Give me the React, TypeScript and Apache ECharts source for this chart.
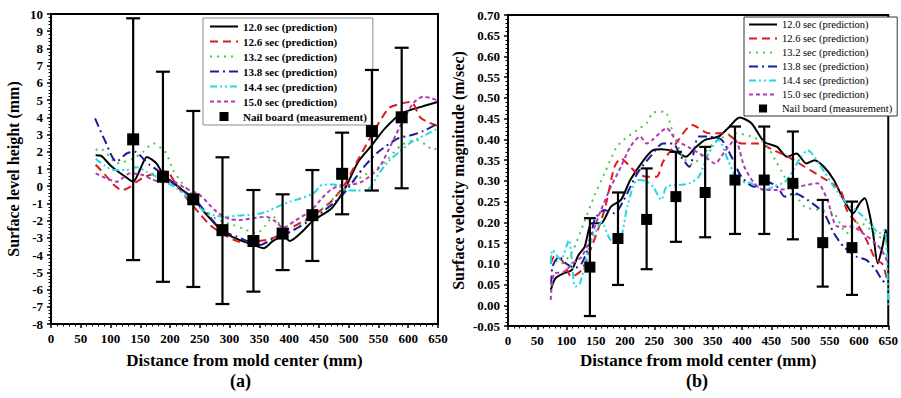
import React, { useEffect, useRef } from "react";
import * as echarts from "echarts";

const FONT = "'Liberation Serif', 'Times New Roman', serif";

const SERIES_NAMES = [
  "12.0 sec (prediction)",
  "12.6 sec (prediction)",
  "13.2 sec (prediction)",
  "13.8 sec (prediction)",
  "14.4 sec (prediction)",
  "15.0 sec (prediction)",
];
const MEAS_NAME = "Nail board (measurement)";

// ---- (a) surface level height (mm) ----
const LEFT_120 = [[75,1.8],[85,1.75],[100,1.2],[113,0.84],[125,0.55],[138,0.26],[150,1.0],[161,1.7],[177,1.33],[189,0.65],[200,0.35],[220,-0.2],[239,-0.7],[260,-1.6],[289,-2.64],[315,-3.1],[340,-3.41],[357,-3.6],[372,-3.2],[390,-2.9],[401,-3.18],[420,-2.7],[440,-2.0],[471,-1.29],[494,-0.12],[516,1.42],[539,2.39],[561,3.36],[589,4.23],[623,4.62],[650,4.9]];
const LEFT_126 = [[75,1.25],[90,0.7],[105,0.1],[119,-0.22],[130,-0.1],[144,0.26],[155,0.5],[170,0.7],[194,0.85],[210,0.1],[230,-0.8],[250,-1.6],[267,-2.25],[290,-2.8],[317,-3.22],[340,-3.2],[362,-3.12],[380,-2.9],[396,-2.54],[420,-2.1],[446,-1.57],[470,-0.9],[491,-0.03],[515,1.5],[539,2.97],[567,4.52],[589,4.81],[605,4.9],[620,4.0],[635,3.7],[650,3.5]];
const LEFT_132 = [[75,2.1],[82,2.2],[99,1.71],[110,1.33],[121,1.4],[138,1.6],[155,2.0],[172,2.49],[185,2.2],[194,1.9],[205,0.94],[220,0.2],[240,-0.6],[261,-1.57],[285,-2.0],[306,-2.25],[325,-2.5],[345,-2.74],[360,-2.3],[373,-1.77],[390,-2.5],[401,-2.7],[420,-2.2],[440,-1.77],[465,-1.0],[488,-0.32],[510,0.3],[527,0.65],[545,1.0],[561,1.42],[589,2.39],[614,2.68],[630,2.4],[642,2.1],[650,2.3]];
const LEFT_138 = [[74,3.94],[90,2.7],[110,1.42],[127,1.9],[141,2.0],[155,1.6],[166,1.23],[180,0.9],[194,0.46],[215,-0.1],[239,-0.7],[260,-1.5],[278,-2.25],[295,-2.7],[312,-2.93],[330,-3.2],[351,-3.41],[370,-3.1],[396,-2.74],[420,-2.3],[440,-1.9],[474,-1.0],[490,-0.5],[511,0.46],[530,1.3],[550,2.0],[583,2.78],[606,2.97],[625,3.2],[645,3.55],[650,3.6]];
const LEFT_144 = [[75,1.6],[90,1.2],[105,0.94],[127,0.94],[144,1.1],[160,0.85],[172,0.65],[190,0.3],[211,-0.12],[235,-0.8],[256,-1.4],[275,-1.7],[295,-1.77],[315,-1.7],[334,-1.67],[350,-1.6],[362,-1.48],[380,-1.2],[401,-0.9],[420,-0.7],[441,-0.41],[455,0.07],[475,0.1],[497,-0.22],[515,-0.25],[530,-0.22],[539,0.07],[552,0.8],[566,1.42],[585,2.0],[606,2.58],[630,3.0],[650,3.36]];
const LEFT_150 = [[75,0.75],[90,0.5],[110,0.26],[133,0.75],[155,0.65],[170,0.4],[183,0.26],[205,0.26],[225,-0.1],[250,-0.51],[278,-1.48],[300,-1.9],[317,-1.96],[340,-1.85],[362,-1.77],[375,-2.0],[390,-2.4],[410,-2.0],[437,-1.4],[455,-0.7],[470,-0.2],[488,0.07],[505,0.1],[522,0.26],[550,1.03],[566,2.05],[586,3.45],[608,4.8],[625,5.2],[640,5.1],[650,4.95]];
const LEFT_MEAS_X = [138, 188, 239, 288, 340, 389, 439, 489, 539, 589];
const LEFT_MEAS = [2.72, 0.55, -0.76, -2.55, -3.18, -2.75, -1.68, 0.72, 3.2, 4.0];
const LEFT_MEAS_HI = [9.75, 6.65, 4.37, 1.68, -0.22, -0.47, 0.94, 3.11, 6.75, 8.04];
const LEFT_MEAS_LO = [-4.29, -5.55, -5.85, -6.84, -6.12, -4.87, -4.34, -1.63, -0.25, -0.12];

// ---- (b) surface velocity magnitude (m/sec) ----
const RIGHT_120 = [[73,0.037],[81,0.065],[95,0.077],[109,0.085],[120,0.12],[131,0.141],[143,0.198],[159,0.198],[176,0.238],[193,0.254],[209,0.302],[232,0.35],[248,0.374],[262,0.376],[287,0.37],[304,0.358],[320,0.38],[337,0.399],[360,0.407],[376,0.427],[396,0.453],[416,0.439],[438,0.394],[460,0.382],[477,0.358],[493,0.366],[510,0.342],[524,0.35],[540,0.334],[557,0.302],[574,0.254],[590,0.222],[601,0.246],[610,0.258],[618,0.22],[624,0.174],[632,0.101],[640,0.141],[646,0.182],[650,0.13]];
const RIGHT_126 = [[73,0.1],[79,0.117],[92,0.109],[109,0.069],[126,0.085],[143,0.141],[165,0.23],[182,0.334],[193,0.354],[209,0.334],[221,0.318],[237,0.31],[254,0.31],[265,0.346],[287,0.39],[315,0.435],[343,0.415],[371,0.415],[399,0.39],[427,0.39],[454,0.374],[479,0.358],[507,0.334],[535,0.31],[568,0.278],[579,0.23],[596,0.198],[613,0.157],[629,0.109],[640,0.1],[650,0.05]];
const RIGHT_132 = [[73,0.12],[90,0.1],[110,0.13],[130,0.2],[148,0.265],[165,0.318],[185,0.38],[198,0.399],[221,0.423],[237,0.439],[248,0.465],[268,0.467],[282,0.415],[299,0.358],[315,0.34],[337,0.37],[360,0.4],[388,0.415],[416,0.407],[440,0.39],[457,0.35],[468,0.322],[485,0.28],[507,0.238],[530,0.23],[557,0.222],[579,0.174],[600,0.2],[630,0.17],[650,0.15]];
const RIGHT_138 = [[74,0.05],[76,0.093],[87,0.117],[100,0.1],[115,0.09],[126,0.101],[140,0.15],[148,0.206],[165,0.23],[182,0.222],[198,0.254],[221,0.318],[243,0.358],[265,0.39],[282,0.39],[295,0.36],[310,0.334],[326,0.407],[343,0.407],[365,0.399],[382,0.358],[399,0.31],[421,0.286],[438,0.3],[460,0.286],[473,0.262],[490,0.27],[512,0.254],[540,0.222],[557,0.174],[574,0.141],[596,0.117],[613,0.109],[629,0.085],[640,0.06],[650,0.05]];
const RIGHT_144 = [[73,0.1],[76,0.133],[90,0.11],[104,0.157],[115,0.045],[123,0.053],[135,0.12],[143,0.157],[160,0.2],[176,0.157],[190,0.155],[204,0.238],[221,0.302],[235,0.3],[248,0.286],[262,0.254],[271,0.286],[290,0.29],[310,0.294],[326,0.31],[343,0.366],[360,0.399],[376,0.35],[393,0.302],[416,0.294],[438,0.278],[454,0.286],[475,0.3],[501,0.358],[512,0.374],[535,0.334],[557,0.286],[579,0.246],[601,0.222],[618,0.198],[635,0.174],[644,0.182],[650,0.0]];
const RIGHT_150 = [[73,0.013],[79,0.077],[95,0.08],[110,0.1],[126,0.117],[143,0.17],[159,0.23],[176,0.286],[193,0.334],[209,0.382],[226,0.407],[237,0.39],[248,0.4],[271,0.427],[287,0.399],[310,0.38],[337,0.358],[354,0.342],[370,0.37],[388,0.399],[404,0.334],[421,0.294],[438,0.278],[460,0.278],[496,0.286],[529,0.294],[546,0.254],[563,0.19],[588,0.19],[610,0.17],[629,0.149],[640,0.13],[650,0.1]];
const RIGHT_MEAS_X = [140, 188, 237, 287, 337, 388, 438, 487, 538, 588];
const RIGHT_MEAS = [0.092, 0.161, 0.207, 0.262, 0.272, 0.302, 0.302, 0.294, 0.151, 0.139];
const RIGHT_MEAS_HI = [0.21, 0.272, 0.33, 0.37, 0.382, 0.431, 0.431, 0.419, 0.254, 0.25];
const RIGHT_MEAS_LO = [-0.026, 0.049, 0.087, 0.153, 0.164, 0.172, 0.172, 0.159, 0.045, 0.025];

const LEFT_LINES = [LEFT_120, LEFT_126, LEFT_132, LEFT_138, LEFT_144, LEFT_150];
const RIGHT_LINES = [RIGHT_120, RIGHT_126, RIGHT_132, RIGHT_138, RIGHT_144, RIGHT_150];

const LINE_STYLES: any[] = [
  { color: "#000000", type: "solid" },
  { color: "#dd1a1a", type: [8, 5] },
  { color: "#4cc84c", type: [2, 5] },
  { color: "#1c1ca0", type: [9, 4, 2, 4] },
  { color: "#22d8e0", type: [7, 3, 2, 3, 2, 3] },
  { color: "#b03cb0", type: [4, 3] },
];

// legend icon: small square centred in a 28x10 box
const SQUARE_ICON =
  "path://M0,0h0.01v0.01h-0.01z M27.99,9.99h0.01v0.01h-0.01z M9.5,0.5h9v9h-9z";

function buildOption() {
  const series: any[] = [];
  const grids = [
    { lines: LEFT_LINES, mx: LEFT_MEAS_X, m: LEFT_MEAS, hi: LEFT_MEAS_HI, lo: LEFT_MEAS_LO, sym: 12, cap: 7 },
    { lines: RIGHT_LINES, mx: RIGHT_MEAS_X, m: RIGHT_MEAS, hi: RIGHT_MEAS_HI, lo: RIGHT_MEAS_LO, sym: 11, cap: 6 },
  ];
  grids.forEach((g, gi) => {
    g.lines.forEach((d, i) => {
      series.push({
        type: "line",
        name: SERIES_NAMES[i],
        xAxisIndex: gi,
        yAxisIndex: gi,
        data: d,
        symbol: "none",
        showSymbol: false,
        smooth: 0.25,
        lineStyle: { width: 2, color: LINE_STYLES[i].color, type: LINE_STYLES[i].type },
        itemStyle: { color: LINE_STYLES[i].color },
        z: 2,
      });
    });
    series.push({
      type: "custom",
      name: "errorbars" + gi,
      xAxisIndex: gi,
      yAxisIndex: gi,
      data: g.mx.map((x, k) => [x, g.lo[k], g.hi[k]]),
      encode: { x: 0, y: [1, 2] },
      z: 4,
      renderItem: (params: any, api: any) => {
        const x = api.value(0);
        const top = api.coord([x, api.value(2)]);
        const bot = api.coord([x, api.value(1)]);
        const c = g.cap;
        const st = { stroke: "#000", lineWidth: 2.2 };
        return {
          type: "group",
          children: [
            { type: "line", shape: { x1: top[0], y1: top[1], x2: bot[0], y2: bot[1] }, style: st },
            { type: "line", shape: { x1: top[0] - c, y1: top[1], x2: top[0] + c, y2: top[1] }, style: st },
            { type: "line", shape: { x1: bot[0] - c, y1: bot[1], x2: bot[0] + c, y2: bot[1] }, style: st },
          ],
        };
      },
    });
    series.push({
      type: "scatter",
      name: MEAS_NAME,
      xAxisIndex: gi,
      yAxisIndex: gi,
      data: g.mx.map((x, k) => [x, g.m[k]]),
      symbol: "rect",
      symbolSize: g.sym,
      itemStyle: { color: "#000", opacity: 1 },
      z: 5,
    });
  });

  const axisCommon = (gi: number) => ({
    gridIndex: gi,
    axisLine: { show: true, onZero: false, lineStyle: { color: "#000", width: 2 } },
    axisTick: { show: true, inside: false, length: 4, lineStyle: { color: "#000", width: 1.5 } },
    minorTick: { show: true, splitNumber: 5, length: 2.5, lineStyle: { color: "#000", width: 1 } },
    splitLine: { show: false },
    axisLabel: { fontFamily: FONT, fontWeight: "bold", fontSize: 13, color: "#000", margin: 8 },
    nameTextStyle: { fontFamily: FONT, fontWeight: "bold", fontSize: 16, color: "#000" },
    nameLocation: "middle",
  });

  const legendData = [
    ...SERIES_NAMES.map((n) => ({ name: n, itemStyle: { opacity: 0 } })),
    { name: MEAS_NAME, icon: SQUARE_ICON, itemStyle: { color: "#000", opacity: 1 } },
  ];

  return {
    animation: false,
    backgroundColor: "#ffffff",
    grid: [
      { left: 51, top: 14, width: 387, height: 310, show: true, borderColor: "#000", borderWidth: 2, backgroundColor: "transparent" },
      { left: 508, top: 15, width: 389, height: 311, show: true, borderColor: "#000", borderWidth: 2, backgroundColor: "transparent" },
    ],
    xAxis: [0, 1].map((gi) => ({
      ...axisCommon(gi),
      type: "value",
      min: 0,
      max: 650,
      interval: 50,
      name: "Distance from mold center (mm)",
      nameGap: gi === 0 ? 28 : 26,
      nameTextStyle: { fontFamily: FONT, fontWeight: "bold", fontSize: 17, color: "#000" },
    })),
    yAxis: [
      {
        ...axisCommon(0),
        type: "value",
        min: -8,
        max: 10,
        interval: 1,
        name: "Surface level height (mm)",
        nameGap: 30,
      },
      {
        ...axisCommon(1),
        type: "value",
        min: -0.05,
        max: 0.7,
        interval: 0.05,
        name: "Surface velocity magnitude (m/sec)",
        nameGap: 42,
        axisLabel: {
          fontFamily: FONT, fontWeight: "bold", fontSize: 13, color: "#000", margin: 8,
          formatter: (v: number) => v.toFixed(2),
        },
      },
    ],
    legend: [
      {
        left: 203, top: 18, orient: "vertical", selectedMode: false,
        itemWidth: 28, itemHeight: 10, itemGap: 4, padding: [3, 6, 3, 6],
        borderColor: "#8a8a8a", borderWidth: 1, backgroundColor: "#fff",
        textStyle: { fontFamily: FONT, fontWeight: "bold", fontSize: 11, color: "#000" },
        data: legendData,
      },
      {
        left: 744, top: 17, orient: "vertical", selectedMode: false,
        itemWidth: 28, itemHeight: 9, itemGap: 3, padding: [2, 5, 2, 4],
        borderColor: "#333", borderWidth: 1, backgroundColor: "#fff",
        textStyle: { fontFamily: FONT, fontWeight: "normal", fontSize: 10.5, color: "#000" },
        data: legendData,
      },
    ],
    graphic: [
      { type: "text", left: 230, top: 372, style: { text: "(a)", fontFamily: FONT, fontWeight: "bold", fontSize: 18, fill: "#000" } },
      { type: "text", left: 686, top: 372, style: { text: "(b)", fontFamily: FONT, fontWeight: "bold", fontSize: 18, fill: "#000" } },
    ],
    series,
  };
}

export default function App() {
  const ref = useRef<HTMLDivElement>(null);
  useEffect(() => {
    if (!ref.current) return;
    const chart = echarts.init(ref.current, undefined, { renderer: "svg" });
    chart.setOption(buildOption() as any);
    return () => chart.dispose();
  }, []);
  return (
    <div
      ref={ref}
      style={{ position: "fixed", left: 0, top: 0, width: 901, height: 398, background: "#fff" }}
    />
  );
}
